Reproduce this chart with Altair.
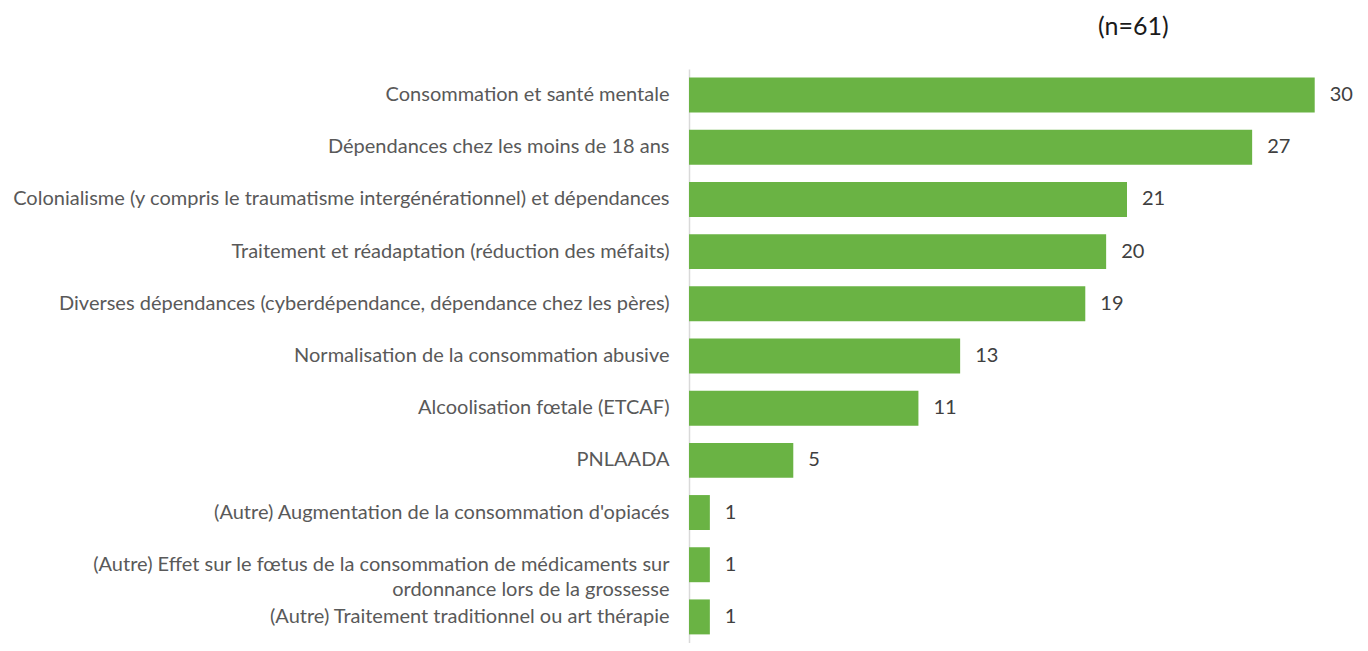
import altair as alt
import pandas as pd

categories = [
    "Consommation et santé mentale",
    "Dépendances chez les moins de 18 ans",
    "Colonialisme (y compris le traumatisme intergénérationnel) et dépendances",
    "Traitement et réadaptation (réduction des méfaits)",
    "Diverses dépendances (cyberdépendance, dépendance chez les pères)",
    "Normalisation de la consommation abusive",
    "Alcoolisation fœtale (ETCAF)",
    "PNLAADA",
    "(Autre) Augmentation de la consommation d'opiacés",
    "(Autre) Effet  sur le fœtus de la consommation de médicaments sur|ordonnance lors de la grossesse",
    "(Autre) Traitement traditionnel ou art thérapie",
]
values = [30, 27, 21, 20, 19, 13, 11, 5, 1, 1, 1]

df = pd.DataFrame({"cat": categories, "val": values})

FONT = "Lato"
W, H = 657, 574

base = alt.Chart(df).encode(
    y=alt.Y("cat:N", sort=categories, title=None,
            scale=alt.Scale(paddingInner=0.33, paddingOuter=0.165),
            axis=alt.Axis(ticks=False, labelPadding=20, labelLimit=800,
                          labelFont=FONT, labelFontSize=20, labelColor="#595959",
                          labelLineHeight=25,
                          domainColor="#D9D9D9", domainWidth=1.5,
                          labelExpr="split(datum.label, '|')")),
    x=alt.X("val:Q", scale=alt.Scale(domain=[0, 31.5], nice=False), axis=None),
)

bars = base.mark_bar(color="#6AB344")
labels = base.mark_text(align="left", dx=15, font=FONT, fontSize=20, color="#404040").encode(
    text="val:Q")

chart = (bars + labels).properties(
    width=W, height=H,
    title=alt.TitleParams(text="(n=61)", anchor="start", frame="group", dx=409,
                          font=FONT, fontSize=25, fontWeight="normal", color="#1a1a1a",
                          offset=29),
    autosize=alt.AutoSizeParams(type="none"),
    padding={"left": 681, "top": 61, "right": 10, "bottom": 0},
).configure_view(stroke=None).configure_axis(grid=False)

chart.save("out.html", embed_options={"renderer": "svg", "actions": False})
